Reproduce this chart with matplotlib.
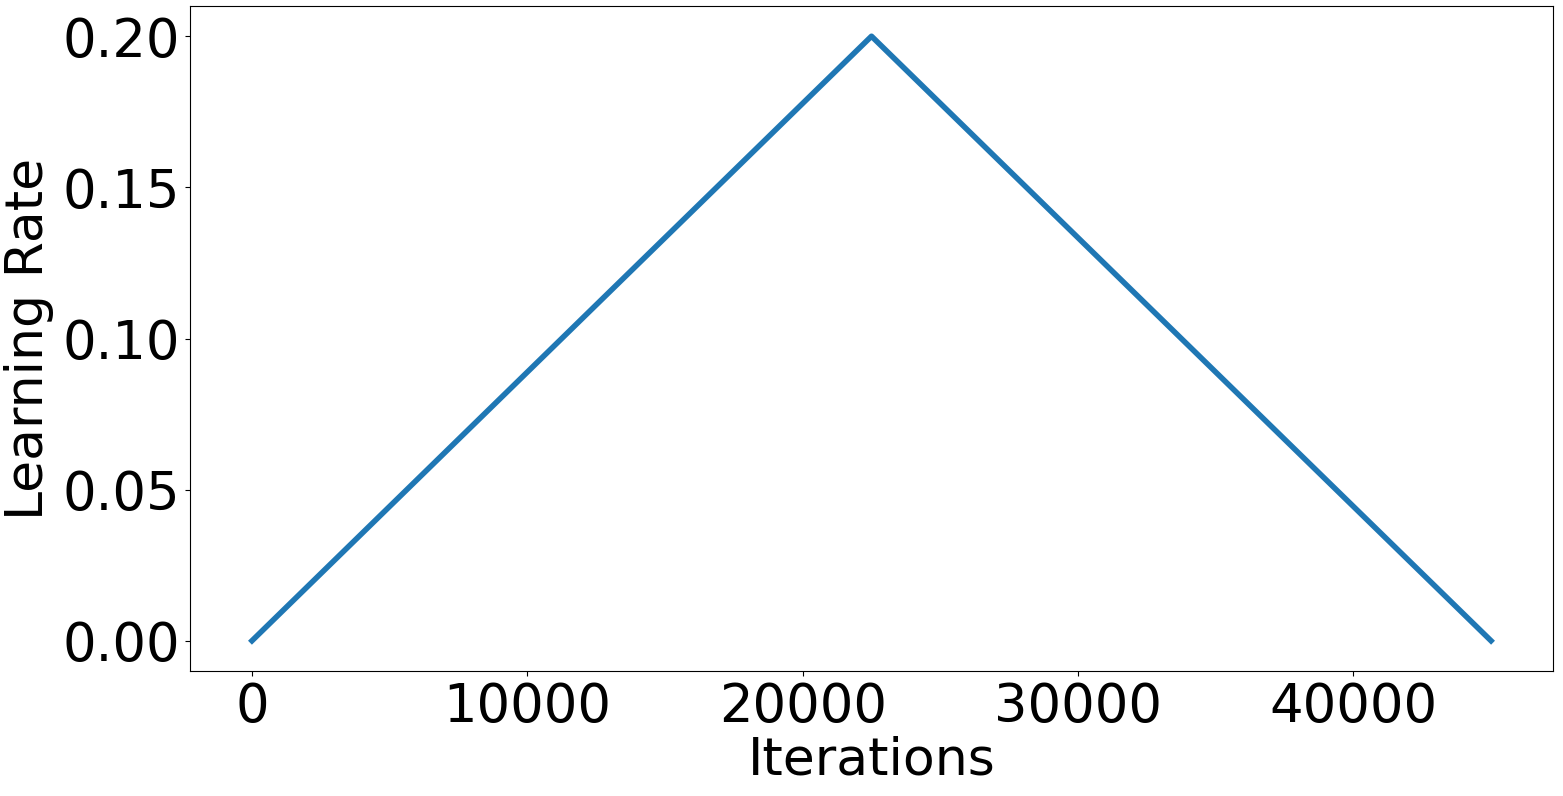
import matplotlib
matplotlib.use("Agg")
import matplotlib.pyplot as plt

# one-cycle schedule: linear warmup then linear decay
iterations = [0, 22500, 45000]
learning_rate = [0.0, 0.2, 0.0]

fig = plt.figure(figsize=(15.63, 7.96), dpi=100)
ax = fig.add_axes([190 / 1563, 1 - 671 / 796, (1553 - 190) / 1563, (671 - 6) / 796])

ax.plot(iterations, learning_rate, color="#1f77b4", linewidth=4)

ax.set_xlabel("Iterations", fontsize=37.5, labelpad=2)
ax.set_ylabel("Learning Rate", fontsize=37.5, labelpad=6)
ax.tick_params(axis="both", labelsize=38)
ax.set_xticks([0, 10000, 20000, 30000, 40000])
ax.set_yticks([0.0, 0.05, 0.10, 0.15, 0.20])
ax.set_yticklabels(["0.00", "0.05", "0.10", "0.15", "0.20"])

fig.savefig("out.png", dpi=100)
